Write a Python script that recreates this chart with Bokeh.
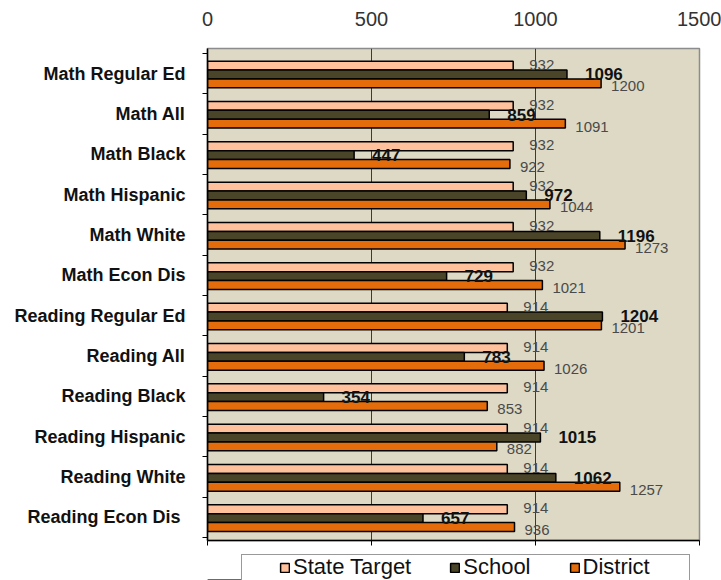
from bokeh.plotting import figure
from bokeh.layouts import column
from bokeh.models import (Range1d, LinearAxis, FixedTicker, Legend, LegendItem,
                          ColumnDataSource)
from bokeh.core.properties import value
from bokeh.embed import file_html
from bokeh.resources import INLINE

categories = ["Math Regular Ed", "Math All", "Math Black", "Math Hispanic", "Math White",
              "Math Econ Dis", "Reading Regular Ed", "Reading All", "Reading Black",
              "Reading Hispanic", "Reading White", "Reading  Econ Dis"]
state_target = [932, 932, 932, 932, 932, 932, 914, 914, 914, 914, 914, 914]
school = [1096, 859, 447, 972, 1196, 729, 1204, 783, 354, 1015, 1062, 657]
district = [1200, 1091, 922, 1044, 1273, 1021, 1201, 1026, 853, 882, 1257, 936]
x_ticks = [0, 500, 1000, 1500]
series_names = ["State Target", "School", "District"]
series_colors = ["#FFC09C", "#4A4429", "#E46C0A"]

N = len(categories)
centers = [N - i - 0.5 for i in range(N)]
shift = -0.02
gap = 0.22
bar_h = 0.22

FONT = "Liberation Sans"

p = figure(width=721, height=548, output_backend="svg", toolbar_location=None,
           x_range=Range1d(0, 1500), y_range=Range1d(-0.074, N + 0.124),
           x_axis_location=None, y_axis_location=None,
           min_border_left=207, min_border_right=22, min_border_top=48, min_border_bottom=8)
p.background_fill_color = "#DDD9C4"
p.border_fill_color = "white"
p.outline_line_color = "#8C8C8C"
p.outline_line_width = 1.5

p.xgrid.ticker = FixedTicker(ticks=[500, 1000])
p.xgrid.grid_line_color = "#3A3A3A"
p.xgrid.grid_line_width = 1
p.ygrid.grid_line_color = None

top = LinearAxis(ticker=FixedTicker(ticks=x_ticks))
top.axis_line_color = None
top.major_tick_line_color = None
top.major_tick_out = 0
top.minor_tick_line_color = None
top.major_label_standoff = 23
top.major_label_text_font = FONT
top.major_label_text_font_size = "20px"
top.major_label_text_color = "#333333"
p.add_layout(top, "above")

bot = LinearAxis(ticker=FixedTicker(ticks=x_ticks))
bot.axis_line_color = "black"
bot.axis_line_width = 1.5
bot.major_tick_line_color = "black"
bot.major_tick_out = 5
bot.major_tick_in = 0
bot.minor_tick_line_color = None
bot.major_label_text_font_size = "0px"
bot.major_label_text_color = None
p.add_layout(bot, "below")

left = LinearAxis(ticker=FixedTicker(ticks=centers, minor_ticks=list(range(N + 1))))
left.major_label_overrides = {c: name for c, name in zip(centers, categories)}
left.axis_line_color = "black"
left.axis_line_width = 1.5
left.major_tick_line_color = None
left.minor_tick_line_color = "black"
left.minor_tick_out = 5
left.minor_tick_in = 0
left.major_label_standoff = 16
left.major_label_text_font = FONT
left.major_label_text_font_style = "bold"
left.major_label_text_font_size = "18px"
left.major_label_text_color = "#111111"
p.add_layout(left, "left")

y_t = [c + gap + shift for c in centers]
y_s = [c + shift for c in centers]
y_d = [c - gap + shift for c in centers]

src = ColumnDataSource(dict(
    y_t=y_t, y_s=y_s, y_d=y_d,
    t=state_target, s=school, d=district,
    tl=[str(v) for v in state_target], sl=[str(v) for v in school], dl=[str(v) for v in district]))

p.hbar(y="y_t", left=0, right="t", height=bar_h, source=src,
       fill_color=series_colors[0], line_color="black", line_width=1.5)
p.hbar(y="y_s", left=0, right="s", height=bar_h, source=src,
       fill_color=series_colors[1], line_color="black", line_width=1.5)
p.hbar(y="y_d", left=0, right="d", height=bar_h, source=src,
       fill_color=series_colors[2], line_color="black", line_width=1.5)

p.text(x="t", y="y_t", text="tl", source=src, x_offset=16, y_offset=-1,
       text_font=value(FONT), text_font_size="15px", text_color="#4A4A4A",
       text_baseline="middle", text_align="left")
p.text(x="s", y="y_s", text="sl", source=src, x_offset=18, y_offset=0,
       text_font=value(FONT), text_font_size="17px", text_font_style="bold",
       text_color="#111111", text_baseline="middle", text_align="left")
p.text(x="d", y="y_d", text="dl", source=src, x_offset=10, y_offset=3,
       text_font=value(FONT), text_font_size="15px", text_color="#4A4A4A",
       text_baseline="middle", text_align="left")

# legend strip (frame aligned with the chart frame)
p2 = figure(width=721, height=32, output_backend="svg", toolbar_location=None,
            x_range=Range1d(0, 1), y_range=Range1d(0, 1),
            x_axis_location=None, y_axis_location=None,
            min_border_left=207, min_border_right=22, min_border_top=0, min_border_bottom=0)
p2.xgrid.grid_line_color = None
p2.ygrid.grid_line_color = None
p2.background_fill_color = "white"
p2.border_fill_color = "white"
p2.outline_line_color = None

# legend sample glyphs (kept outside the visible range)
key_src = ColumnDataSource(dict(y=[-10], right=[0.5]))
items = []
for name, col in zip(series_names, series_colors):
    r = p2.hbar(y="y", left=0, right="right", height=0.5, source=key_src,
                fill_color=col, line_color="black", line_width=1.5)
    items.append(LegendItem(label=name, renderers=[r]))

box_r = p2.hbar(y="y", left=0, right="right", height=0.5, source=key_src,
                fill_alpha=0, line_alpha=0)
box = Legend(items=[LegendItem(label=" ", renderers=[box_r])], location=(34, -6))
box.glyph_width = 1
box.glyph_height = 1
box.label_standoff = 0
box.label_width = 446
box.label_height = 30
box.padding = 0
box.margin = 0
box.border_line_color = "#333333"
box.border_line_width = 1.5
box.background_fill_color = "white"
box.background_fill_alpha = 1
p2.add_layout(box, "center")

legend = Legend(items=items, orientation="horizontal", location=(72, 0))
legend.label_text_font = FONT
legend.label_text_font_size = "22px"
legend.label_text_color = "#111111"
legend.glyph_width = 11
legend.glyph_height = 11
legend.label_standoff = 3
legend.spacing = 38
legend.padding = 0
legend.margin = 0
legend.border_line_color = None
legend.background_fill_alpha = 0
p2.add_layout(legend, "center")

layout = column(p, p2, spacing=0)
open("out.html", "w").write(file_html(layout, INLINE))
